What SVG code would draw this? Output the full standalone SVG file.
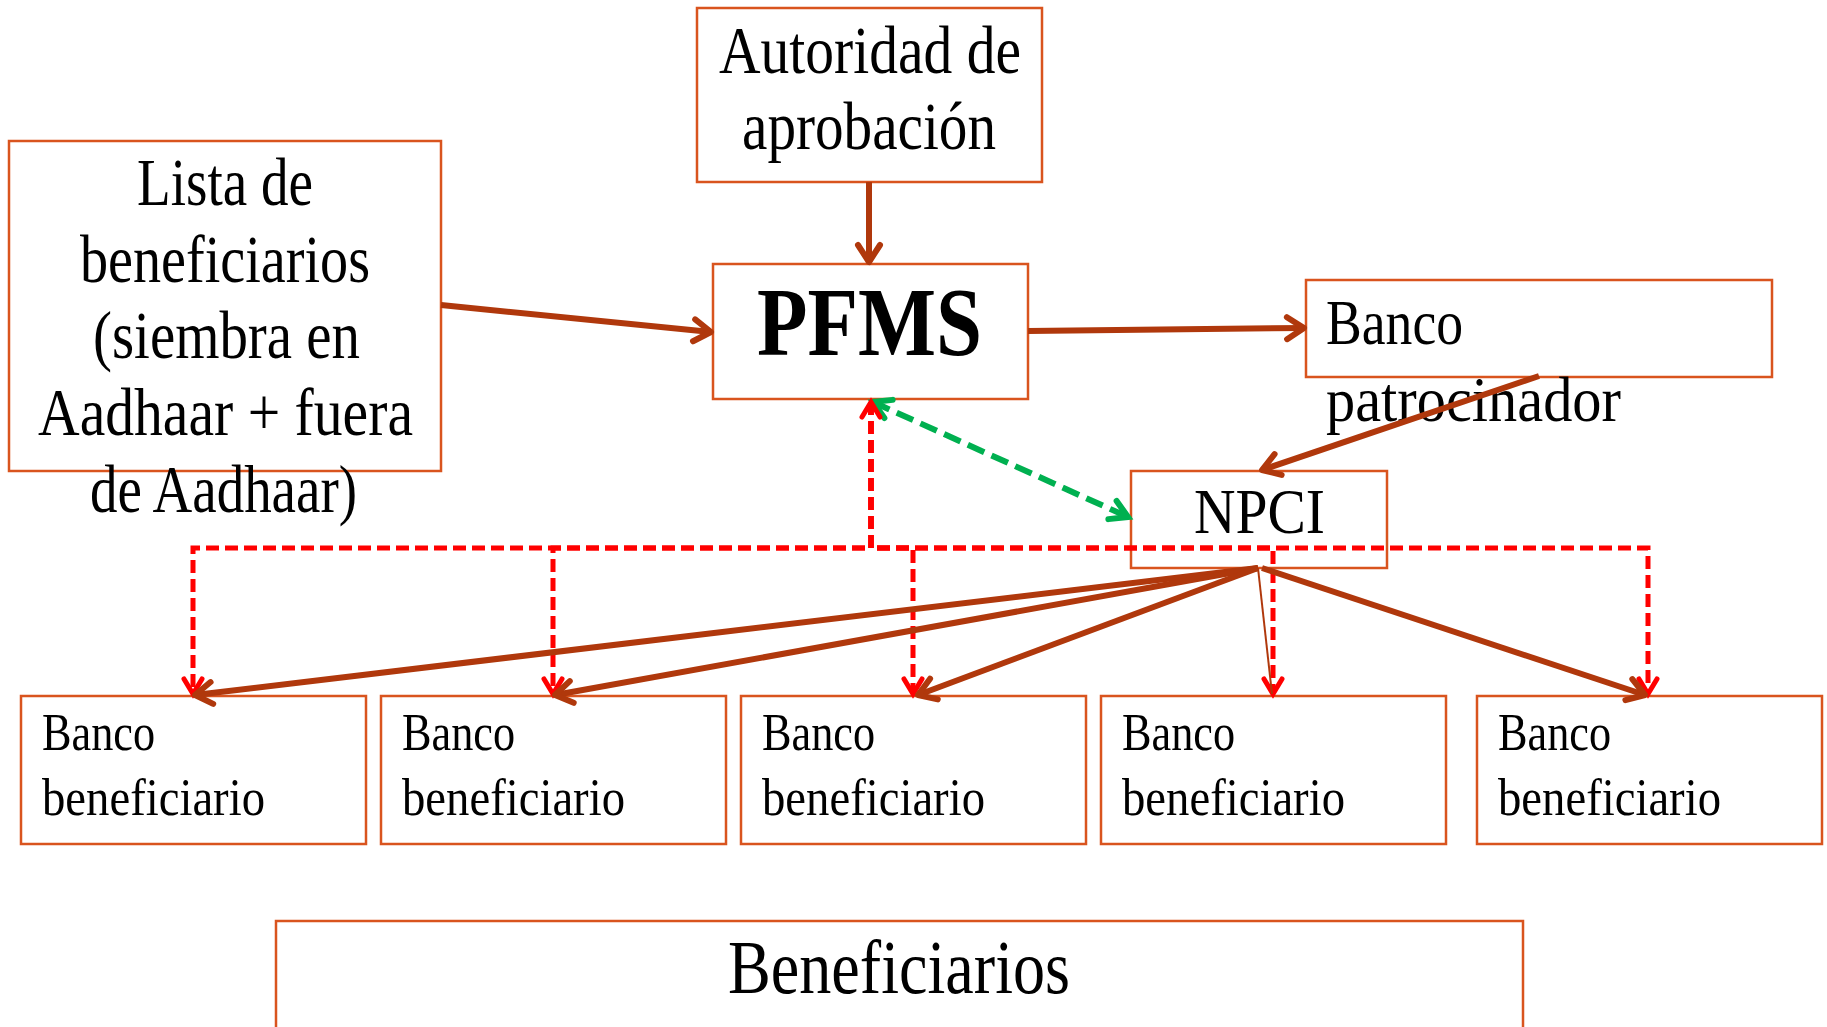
<svg xmlns="http://www.w3.org/2000/svg" width="1827" height="1027" viewBox="0 0 1827 1027">
<style>
.box{fill:#fff;stroke:#D9541E;stroke-width:2.5}
.t{font-family:"Liberation Serif",serif;fill:#000}
.l{font-size:68px}
.m{font-size:64px}
.s{font-size:53px}
.b{font-size:98px;font-weight:bold}
.x{font-size:77px}
.br{fill:none;stroke:#B0380C;stroke-width:6}
.rd{fill:none;stroke:#FF0000;stroke-width:5;stroke-dasharray:13 6}
.gr{fill:none;stroke:#00B050;stroke-width:6;stroke-dasharray:18 8}
</style>
<defs>
<marker id="ab" viewBox="-20 -14 24 28" refX="0" refY="0" markerWidth="24" markerHeight="28" markerUnits="userSpaceOnUse" orient="auto" overflow="visible">
<path d="M-17 -11 L0 0 L-17 11" fill="none" stroke="#B0380C" stroke-width="6" stroke-linecap="round" stroke-linejoin="round"/>
</marker>
<marker id="ar" viewBox="-16 -12 20 24" refX="0" refY="0" markerWidth="20" markerHeight="24" markerUnits="userSpaceOnUse" orient="auto-start-reverse" overflow="visible">
<path d="M-15 -9 L0 0 L-15 9" fill="none" stroke="#FF0000" stroke-width="5" stroke-linecap="round" stroke-linejoin="miter"/>
</marker>
<marker id="ag" viewBox="-18 -14 22 28" refX="0" refY="0" markerWidth="22" markerHeight="28" markerUnits="userSpaceOnUse" orient="auto-start-reverse" overflow="visible">
<path d="M-17 -10 L0 0 L-17 10" fill="none" stroke="#00B050" stroke-width="6" stroke-linecap="round" stroke-linejoin="miter"/>
</marker>
</defs>
<rect width="1827" height="1027" fill="#fff"/>

<g id="autoridad">
<rect class="box" x="697" y="8" width="345" height="174"/>
<text class="t l" x="719" y="73" textLength="302" lengthAdjust="spacingAndGlyphs">Autoridad de</text>
<text class="t l" x="742" y="149" textLength="254" lengthAdjust="spacingAndGlyphs">aprobación</text>
</g>

<g id="lista">
<rect class="box" x="9" y="141" width="432" height="330"/>
<text class="t l" x="137" y="205" textLength="176" lengthAdjust="spacingAndGlyphs">Lista de</text>
<text class="t l" x="80" y="282" textLength="290" lengthAdjust="spacingAndGlyphs">beneficiarios</text>
<text class="t l" x="93" y="358" textLength="267" lengthAdjust="spacingAndGlyphs">(siembra en</text>
<text class="t l" x="38" y="435" textLength="375" lengthAdjust="spacingAndGlyphs">Aadhaar + fuera</text>
<text class="t l" x="90" y="512" textLength="267" lengthAdjust="spacingAndGlyphs">de Aadhaar)</text>
</g>

<g id="pfms">
<rect class="box" x="713" y="264" width="315" height="135"/>
<text class="t b" x="757" y="355" textLength="225" lengthAdjust="spacingAndGlyphs">PFMS</text>
</g>

<g id="patrocinador">
<rect class="box" x="1306" y="280" width="466" height="97"/>
<text class="t m" x="1326" y="344" textLength="137" lengthAdjust="spacingAndGlyphs">Banco</text>
<text class="t m" x="1326" y="421" textLength="295" lengthAdjust="spacingAndGlyphs">patrocinador</text>
</g>

<g id="npci">
<rect class="box" x="1131" y="471" width="256" height="97"/>
<text class="t m" x="1194" y="533" textLength="131" lengthAdjust="spacingAndGlyphs">NPCI</text>
</g>

<g id="banco1">
<rect class="box" x="21" y="696" width="345" height="148"/>
<text class="t s" x="42" y="750" textLength="113" lengthAdjust="spacingAndGlyphs">Banco</text>
<text class="t s" x="42" y="815" textLength="223" lengthAdjust="spacingAndGlyphs">beneficiario</text>
</g>
<g id="banco2">
<rect class="box" x="381" y="696" width="345" height="148"/>
<text class="t s" x="402" y="750" textLength="113" lengthAdjust="spacingAndGlyphs">Banco</text>
<text class="t s" x="402" y="815" textLength="223" lengthAdjust="spacingAndGlyphs">beneficiario</text>
</g>
<g id="banco3">
<rect class="box" x="741" y="696" width="345" height="148"/>
<text class="t s" x="762" y="750" textLength="113" lengthAdjust="spacingAndGlyphs">Banco</text>
<text class="t s" x="762" y="815" textLength="223" lengthAdjust="spacingAndGlyphs">beneficiario</text>
</g>
<g id="banco4">
<rect class="box" x="1101" y="696" width="345" height="148"/>
<text class="t s" x="1122" y="750" textLength="113" lengthAdjust="spacingAndGlyphs">Banco</text>
<text class="t s" x="1122" y="815" textLength="223" lengthAdjust="spacingAndGlyphs">beneficiario</text>
</g>
<g id="banco5">
<rect class="box" x="1477" y="696" width="345" height="148"/>
<text class="t s" x="1498" y="750" textLength="113" lengthAdjust="spacingAndGlyphs">Banco</text>
<text class="t s" x="1498" y="815" textLength="223" lengthAdjust="spacingAndGlyphs">beneficiario</text>
</g>

<g id="beneficiarios">
<rect class="box" x="276" y="921" width="1247" height="200"/>
<text class="t x" x="728" y="993" textLength="342" lengthAdjust="spacingAndGlyphs">Beneficiarios</text>
</g>

<g id="connectors">
<line class="br" x1="869" y1="182" x2="869" y2="262" marker-end="url(#ab)"/>
<line class="br" x1="441" y1="305" x2="711" y2="332" marker-end="url(#ab)"/>
<line class="br" x1="1028" y1="331" x2="1304" y2="328" marker-end="url(#ab)"/>
<line class="br" x1="1539" y1="376" x2="1262" y2="470" marker-end="url(#ab)"/>
<line class="gr" x1="873" y1="402" x2="1128" y2="517" marker-start="url(#ag)" marker-end="url(#ag)"/>
<path class="rd" d="M871 402 V548 H193 V694" marker-start="url(#ar)" marker-end="url(#ar)"/>
<path class="rd" d="M871 402 V548 H553 V694" marker-end="url(#ar)"/>
<path class="rd" d="M871 402 V548 H913 V694" marker-end="url(#ar)"/>
<path class="rd" d="M871 402 V548 H1273 V694" marker-end="url(#ar)"/>
<path class="rd" d="M871 402 V548 H1648 V694" marker-end="url(#ar)"/>
<line class="br" x1="1258" y1="568" x2="195" y2="695" marker-end="url(#ab)"/>
<line class="br" x1="1258" y1="568" x2="555" y2="695" marker-end="url(#ab)"/>
<line class="br" x1="1258" y1="568" x2="918" y2="695" marker-end="url(#ab)"/>
<line x1="1258" y1="568" x2="1272" y2="694" stroke="#B0380C" stroke-width="2"/>
<line class="br" x1="1262" y1="568" x2="1645" y2="695" marker-end="url(#ab)"/>
</g>
</svg>
